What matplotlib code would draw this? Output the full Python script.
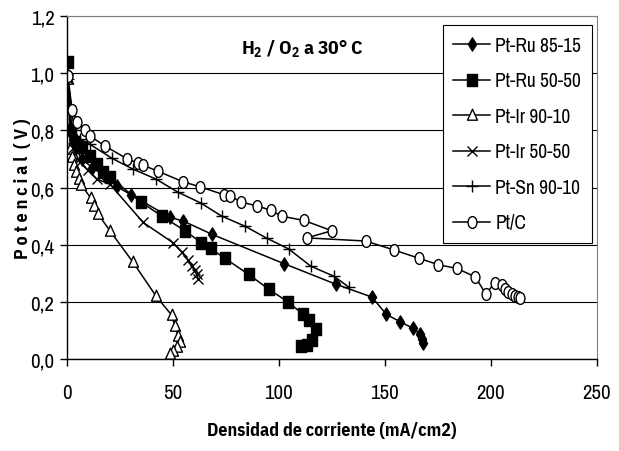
import matplotlib
matplotlib.use("Agg")
import matplotlib.pyplot as plt
from matplotlib.path import Path
from matplotlib.transforms import Affine2D

# curvas de polarizacion H2/O2 a 30 C
ptru8515_x = [0.5, 2, 4, 7, 12, 18, 23.5, 30.5, 48.6, 54.9, 68.6, 102.4, 127.2, 143.9, 150.8, 157.1, 163.2, 166.7, 167.5, 168.1]
ptru8515_y = [0.99, 0.80, 0.74, 0.70, 0.67, 0.64, 0.604, 0.574, 0.496, 0.483, 0.436, 0.334, 0.261, 0.217, 0.156, 0.131, 0.108, 0.087, 0.070, 0.056]

ptru5050_x = [0.5, 2, 4, 7.0, 10.8, 14.0, 17.1, 20.3, 35.2, 45.1, 55.7, 63.5, 67.8, 74.7, 85.8, 95.3, 104.5, 111.5, 114.2, 117.5, 115.9, 113.1, 110.7]
ptru5050_y = [1.04, 0.80, 0.76, 0.741, 0.711, 0.682, 0.653, 0.636, 0.548, 0.499, 0.449, 0.407, 0.387, 0.352, 0.296, 0.244, 0.199, 0.156, 0.136, 0.105, 0.068, 0.049, 0.047]

ptir9010_x = [0.5, 1.6, 2.4, 3.3, 4.5, 5.7, 6.9, 11.3, 12.7, 14.8, 20.3, 31.3, 42.0, 49.4, 50.9, 52.5, 53.5, 51.9, 50.1, 48.6]
ptir9010_y = [0.98, 0.735, 0.707, 0.679, 0.654, 0.630, 0.609, 0.563, 0.535, 0.507, 0.449, 0.338, 0.221, 0.154, 0.117, 0.082, 0.058, 0.041, 0.029, 0.017]

ptir5050_x = [0.5, 3, 6, 10, 14, 20.3, 36.0, 50.3, 54.2, 57.3, 59.0, 60.3, 61.2, 62.0]
ptir5050_y = [0.98, 0.74, 0.69, 0.66, 0.63, 0.612, 0.478, 0.406, 0.374, 0.345, 0.327, 0.311, 0.296, 0.28]

ptsn9010_x = [0.5, 3.5, 6.0, 10.8, 21.2, 31.1, 42.0, 52.4, 63.2, 73.1, 84.0, 94.3, 104.7, 115.1, 125.9, 133.0]
ptsn9010_y = [0.98, 0.80, 0.77, 0.752, 0.703, 0.665, 0.630, 0.584, 0.546, 0.500, 0.465, 0.423, 0.385, 0.325, 0.290, 0.252]

ptc_x = [0.5, 2.5, 5.0, 8.5, 10.8, 18.1, 28.6, 33.5, 35.7, 43.1, 54.6, 62.7, 74.1, 77.0, 82.1, 89.5, 96.2, 101.3, 111.9, 125.0,
         113.2, 141.0, 154.2, 166.0, 175.3, 184.1, 192.8, 197.6, 201.9, 205.3, 206.6, 208.2, 209.8, 211.3, 212.9, 213.7]
ptc_y = [0.99, 0.87, 0.830, 0.801, 0.781, 0.745, 0.700, 0.686, 0.679, 0.657, 0.621, 0.603, 0.575, 0.571, 0.550, 0.536, 0.521, 0.500, 0.485, 0.449,
         0.424, 0.413, 0.382, 0.353, 0.330, 0.317, 0.287, 0.228, 0.266, 0.259, 0.245, 0.235, 0.227, 0.221, 0.218, 0.213]

labels = ['Pt-Ru 85-15', 'Pt-Ru 50-50', 'Pt-Ir 90-10', 'Pt-Ir 50-50', 'Pt-Sn 90-10', 'Pt/C']
x_ticks = [0, 50, 100, 150, 200, 250]
y_ticks = [0.0, 0.2, 0.4, 0.6, 0.8, 1.0, 1.2]
y_ticklabels = ['0,0', '0,2', '0,4', '0,6', '0,8', '1,0', '1,2']

plt.rcParams['font.family'] = ['Archivo Narrow', 'Liberation Sans', 'DejaVu Sans']
bold_fam = ['IBM Plex Sans Condensed', 'Liberation Sans', 'DejaVu Sans']
plt.rcParams['mathtext.fontset'] = 'custom'
plt.rcParams['mathtext.rm'] = 'IBM Plex Sans Condensed:bold'
plt.rcParams['mathtext.bf'] = 'IBM Plex Sans Condensed:bold'

# marcadores algo estrechos, como en el original
circ = Path.unit_circle().transformed(Affine2D().scale(0.75, 1.0))
diam = Path([(0, 1), (0.62, 0), (0, -1), (-0.62, 0), (0, 1)], closed=True)
sq = Path([(-0.8, -1), (0.8, -1), (0.8, 1), (-0.8, 1), (-0.8, -1)], closed=True)
tri = Path([(0, 1), (0.8, -0.75), (-0.8, -0.75), (0, 1)], closed=True)

fig = plt.figure(figsize=(6.19, 4.52), dpi=100)
ax = fig.add_axes([0.108, 0.2035, 0.856, 0.7585])

kw = dict(color='black', lw=1.1)
ax.plot(ptru8515_x, ptru8515_y, marker=diam, ms=9.5, mfc='black', mec='black', label=labels[0], **kw)
ax.plot(ptru5050_x, ptru5050_y, marker=sq, ms=9, mfc='black', mec='black', label=labels[1], **kw)
ax.plot(ptir9010_x, ptir9010_y, marker=tri, ms=9, mfc='white', mec='black', mew=1.0, label=labels[2], **kw)
ax.plot(ptir5050_x, ptir5050_y, marker='x', ms=7.5, mec='black', mew=1.0, label=labels[3], **kw)
ax.plot(ptsn9010_x, ptsn9010_y, marker='+', ms=9, mec='black', mew=1.0, label=labels[4], **kw)
ax.plot(ptc_x, ptc_y, marker=circ, ms=8.5, mfc='white', mec='black', mew=1.0, label=labels[5], **kw)

ax.set_xlim(0, 250)
ax.set_ylim(0, 1.2)
ax.set_xticks(x_ticks)
ax.set_xticklabels([str(v) for v in x_ticks])
ax.set_yticks(y_ticks)
ax.set_yticklabels(y_ticklabels)
ax.tick_params(axis='x', direction='out', length=5, width=1, pad=12, labelsize=15)
ax.tick_params(axis='y', direction='out', length=5, width=1, pad=4, labelsize=15)
ax.yaxis.grid(True, color='black', lw=0.8)
ax.set_axisbelow(True)

for s in ['top', 'right']:
    ax.spines[s].set_color('#808080')
for s in ['left', 'bottom']:
    ax.spines[s].set_color('black')
    ax.spines[s].set_linewidth(1.0)

ax.set_xlabel('Densidad de corriente (mA/cm2)', fontsize=13, fontweight='bold', family=bold_fam)
ax.xaxis.set_label_coords(0.5, -0.18)
ax.set_ylabel('P o t e n c i a l  ( V )', fontsize=13, fontweight='bold', family=bold_fam)
ax.yaxis.set_label_coords(-0.066, 0.5)
ax.text(0.445, 0.905, r'H$_2$ / O$_2$ a 30° C', transform=ax.transAxes,
        ha='center', va='center', fontsize=14, fontweight='bold', family=bold_fam)

leg = ax.legend(loc='upper right', bbox_to_anchor=(0.9906, 0.9738), fontsize=14, frameon=True,
                fancybox=False, edgecolor='black', framealpha=1, borderaxespad=0,
                handlelength=1.9, handletextpad=0.25, labelspacing=0.85, borderpad=0.55)
leg.get_frame().set_linewidth(0.8)

fig.savefig('out.png', dpi=100)
